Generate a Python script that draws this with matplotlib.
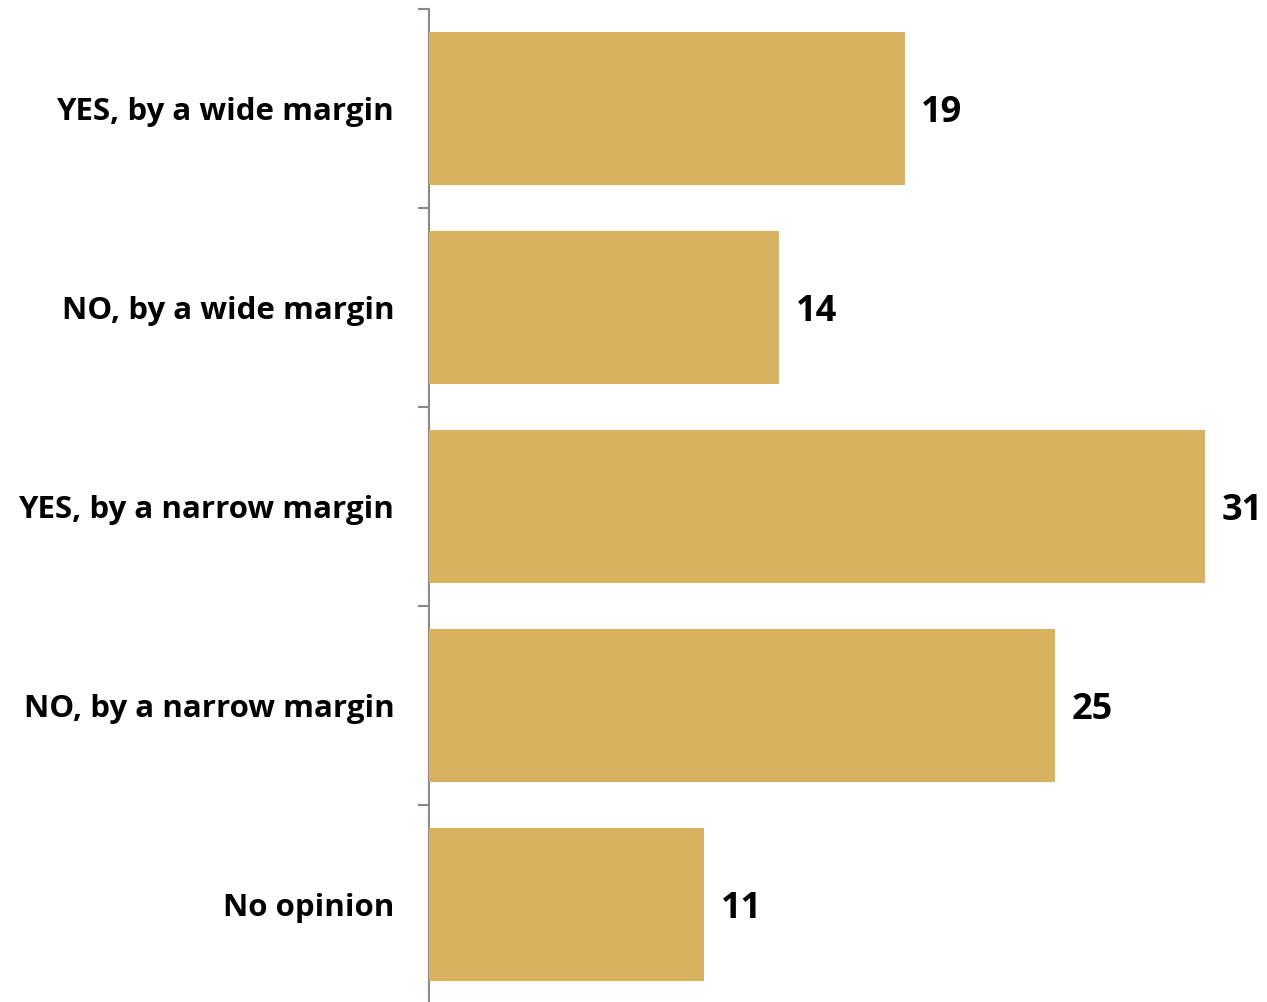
import matplotlib
matplotlib.use("Agg")
import matplotlib.pyplot as plt

categories = ["YES, by a wide margin", "NO, by a wide margin", "YES, by a narrow margin",
              "NO, by a narrow margin", "No opinion"]
values = [19, 14, 31, 25, 11]

BAR_COLOR = "#D8B25F"
SPINE_COLOR = "#898989"

plt.rcParams["font.family"] = ["Open Sans", "DejaVu Sans"]

fig = plt.figure(figsize=(12.67, 10.02), dpi=100, facecolor="white")
ax = fig.add_axes([429 / 1267, -2 / 1002, 1 - 429 / 1267, 995 / 1002])

y = list(range(len(categories)))
ax.barh(y, values, height=0.77, color=BAR_COLOR, zorder=3)

# value labels to the right of each bar
for yi, v in zip(y, values):
    ax.annotate(str(v), (v, yi), xytext=(12, -3), textcoords="offset points",
                va="center", ha="left", fontsize=26, fontweight="bold", color="black")

ax.set_ylim(len(categories) - 0.5, -0.5)
ax.set_xlim(0, 33.48)
ax.set_yticks(y)
ax.set_yticklabels(categories, fontsize=22.5, fontweight="bold")
ax.set_yticks([i - 0.5 for i in range(len(categories) + 1)], minor=True)
ax.tick_params(axis="y", which="major", length=0, pad=25)
ax.tick_params(axis="y", which="minor", length=8, width=1.5, color=SPINE_COLOR)
ax.set_xticks([])

for s in ["top", "right", "bottom"]:
    ax.spines[s].set_visible(False)
ax.spines["left"].set_color(SPINE_COLOR)
ax.spines["left"].set_linewidth(1.5)

fig.savefig("out.png", dpi=100)
